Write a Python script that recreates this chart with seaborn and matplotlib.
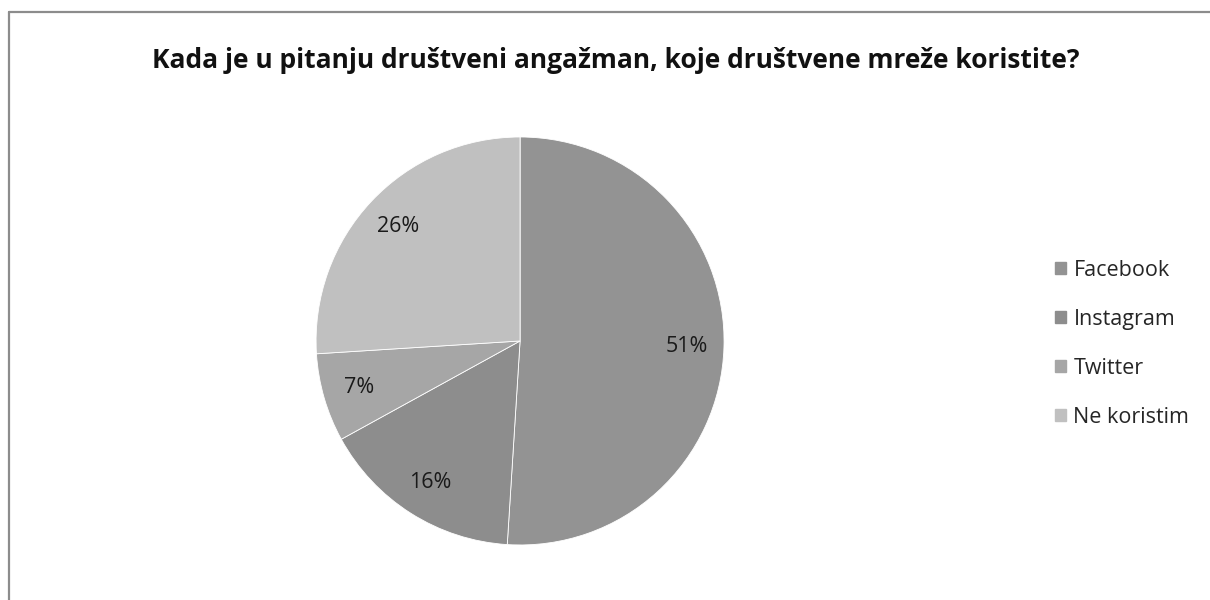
import matplotlib
matplotlib.use("Agg")
import matplotlib.pyplot as plt
import seaborn as sns
from matplotlib.lines import Line2D

# podaci
categories = ["Facebook", "Instagram", "Twitter", "Ne koristim"]
values = [51, 16, 7, 26]
colors = ["#939393", "#8d8d8d", "#a6a6a6", "#c0c0c0"]
title = "Kada je u pitanju društveni angažman, koje društvene mreže koristite?"

sns.set_theme(style="white")
plt.rcParams["font.family"] = ["Open Sans", "DejaVu Sans"]

fig = plt.figure(figsize=(12.1, 6.0), dpi=100)
ax = fig.add_axes([0.2612, 0.0917, 0.3372, 0.68])

wedges, texts, autotexts = ax.pie(
    values, colors=colors, startangle=90, counterclock=False,
    autopct="%1.0f%%", pctdistance=0.82,
    wedgeprops=dict(edgecolor="white", linewidth=0.6),
    textprops=dict(fontsize=15.5, color="#1a1a1a"),
)
ax.set_xlim(-1, 1)
ax.set_ylim(-1, 1)
ax.set_aspect("equal")

fig.text(0.509, 0.9, title, ha="center", va="center",
         fontsize=19, fontweight="bold", color="#111111")

handles = [plt.Rectangle((0, 0), 1, 1, color=c) for c in colors]
fig.legend(handles, categories, loc="center left", bbox_to_anchor=(0.856, 0.427),
           frameon=False, fontsize=15.5, handlelength=0.5, handleheight=0.5,
           handletextpad=0.35, labelspacing=1.3)

# okvir grafikona
fig.add_artist(Line2D([9 / 1210, 1.0], [1 - 12 / 600, 1 - 12 / 600],
                      color="#8c8c8c", linewidth=1.6))
fig.add_artist(Line2D([9 / 1210, 9 / 1210], [0.0, 1 - 12 / 600],
                      color="#8c8c8c", linewidth=1.6))

fig.savefig("out.png", dpi=100, facecolor="white")
